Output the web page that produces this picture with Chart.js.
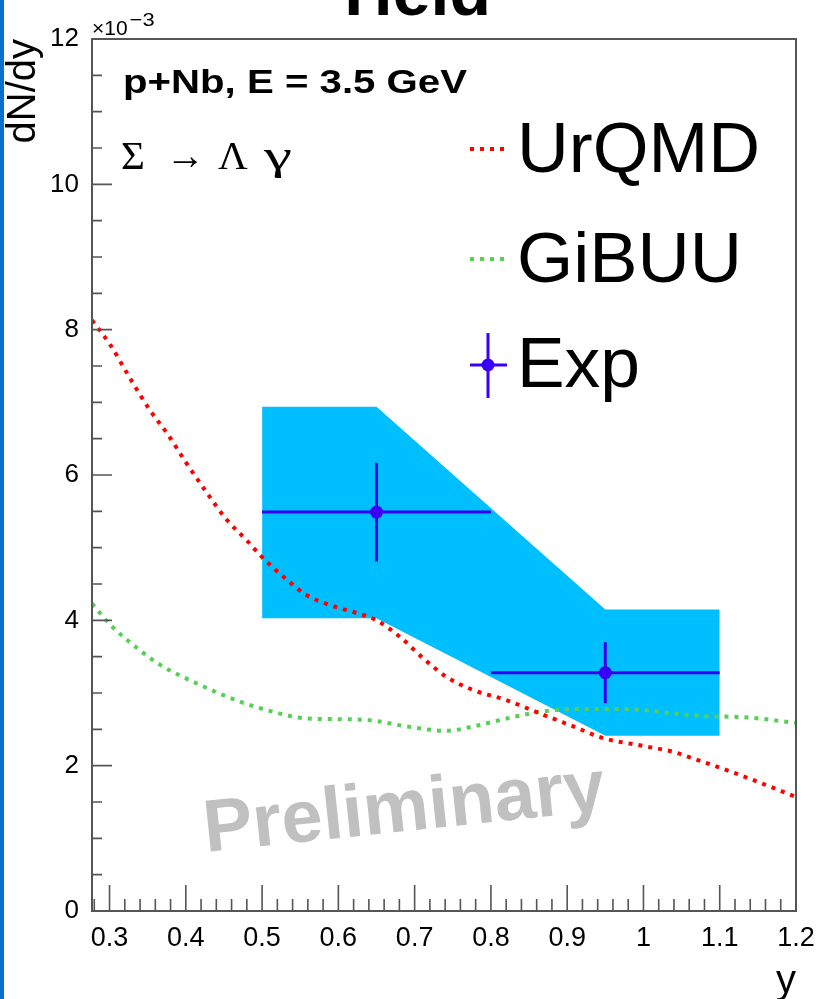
<!DOCTYPE html>
<html>
<head>
<meta charset="utf-8">
<script src="https://cdn.jsdelivr.net/npm/chart.js@4.4.1/dist/chart.umd.min.js"></script>
<style>
  html, body { margin: 0; padding: 0; background: #fff; }
  #wrap { position: relative; width: 819px; height: 999px; overflow: hidden; }
  #strip { position: absolute; left: 0; top: 0; width: 4px; height: 999px; background: #0b6fce; }
</style>
</head>
<body>
<div id="wrap">
  <canvas id="yieldChart" width="819" height="999"></canvas>
  <div id="strip"></div>
</div>
<script>
// rapidity y on x, dN/dy in units of 1e-3 on y
const urqmdRapidity = [0.277, 0.301, 0.327, 0.353, 0.375, 0.401, 0.428, 0.454, 0.48, 0.499, 0.528, 0.558, 0.589, 0.624, 0.65, 0.681, 0.711, 0.742, 0.777, 0.821, 0.864, 0.908, 0.947, 0.995, 1.039, 1.065, 1.127, 1.2]
const urqmdYield = [8.13, 7.79, 7.33, 6.89, 6.58, 6.16, 5.75, 5.38, 5.1, 4.88, 4.6, 4.35, 4.21, 4.1, 4.0, 3.77, 3.48, 3.22, 3.04, 2.9, 2.72, 2.54, 2.38, 2.28, 2.19, 2.1, 1.87, 1.57]

const gibuuRapidity = [0.277, 0.301, 0.336, 0.366, 0.419, 0.471, 0.515, 0.558, 0.602, 0.646, 0.689, 0.742, 0.777, 0.821, 0.864, 0.908, 0.952, 0.995, 1.039, 1.083, 1.127, 1.2]
const gibuuYield = [4.23, 3.94, 3.62, 3.39, 3.11, 2.88, 2.74, 2.65, 2.64, 2.62, 2.54, 2.48, 2.54, 2.65, 2.74, 2.78, 2.78, 2.77, 2.72, 2.68, 2.67, 2.59]

const expRapidity = [0.65, 0.95]
const expYield = [5.49, 3.28]
const expRapidityErr = [0.15, 0.15]
const expYieldErr = [0.68, 0.42]

// systematic band corners
const sysRapidity = [0.5, 0.65, 0.95, 1.1]
const sysHigh = [6.94, 6.94, 4.15, 4.15]
const sysLow = [4.03, 4.03, 2.41, 2.41]

const xTickValues = [0.3, 0.4, 0.5, 0.6, 0.7, 0.8, 0.9, 1.0, 1.1, 1.2]
const xTickLabels = ["0.3", "0.4", "0.5", "0.6", "0.7", "0.8", "0.9", "1", "1.1", "1.2"]
const yTickValues = [0, 2, 4, 6, 8, 10, 12]
const yTickLabels = ["0", "2", "4", "6", "8", "10", "12"]

const SANS = "'Liberation Sans', Arial, Helvetica, sans-serif"
const SERIF = "'Liberation Serif', 'Times New Roman', serif"
const EXP_COLOR = "#3a00f5"
const FRAME_COLOR = "#555555"
const X_MINOR = 0.02
const Y_MINOR = 0.5

function toPoints(xs, ys) {
  return xs.map((x, i) => ({ x: x, y: ys[i] }))
}

// draw text squeezed/stretched to a given width (ROOT fonts run wider)
function fillTextWidth(ctx, text, x, y, width) {
  const w = ctx.measureText(text).width
  ctx.save()
  ctx.translate(x, y)
  ctx.scale(width / w, 1)
  ctx.fillText(text, 0, 0)
  ctx.restore()
}

const rootStyle = {
  id: "rootStyle",
  beforeDraw(chart) {
    const ctx = chart.ctx
    ctx.save()
    ctx.fillStyle = "#ffffff"
    ctx.fillRect(0, 0, chart.width, chart.height)
    ctx.restore()
  },
  afterDatasetsDraw(chart) {
    const { ctx, chartArea: a, scales } = chart
    const x = scales.x
    const y = scales.y
    ctx.save()

    // error bars of the measurement
    ctx.strokeStyle = EXP_COLOR
    ctx.lineWidth = 3
    expRapidity.forEach((v, i) => {
      const px = x.getPixelForValue(v)
      const py = y.getPixelForValue(expYield[i])
      ctx.beginPath()
      ctx.moveTo(x.getPixelForValue(v - expRapidityErr[i]), py)
      ctx.lineTo(x.getPixelForValue(v + expRapidityErr[i]), py)
      ctx.moveTo(px, y.getPixelForValue(expYield[i] + expYieldErr[i]))
      ctx.lineTo(px, y.getPixelForValue(expYield[i] - expYieldErr[i]))
      ctx.stroke()
    })

    // frame
    ctx.strokeStyle = FRAME_COLOR
    ctx.lineWidth = 2
    ctx.strokeRect(a.left, a.top, a.right - a.left, a.bottom - a.top)

    // inward ticks, ROOT style
    ctx.lineWidth = 1.6
    ctx.beginPath()
    for (let k = Math.ceil(x.min / X_MINOR - 1e-6); k * X_MINOR <= x.max + 1e-6; k++) {
      const px = x.getPixelForValue(k * X_MINOR)
      const len = k % 5 === 0 ? 26 : 12
      ctx.moveTo(px, a.bottom)
      ctx.lineTo(px, a.bottom - len)
    }
    for (let k = 0; k * Y_MINOR <= y.max + 1e-6; k++) {
      const py = y.getPixelForValue(k * Y_MINOR)
      const len = k % 4 === 0 ? 20 : 10
      ctx.moveTo(a.left, py)
      ctx.lineTo(a.left + len, py)
    }
    ctx.stroke()
    ctx.restore()
  },
  afterDraw(chart) {
    const ctx = chart.ctx
    const a = chart.chartArea
    ctx.save()
    ctx.fillStyle = "#000000"
    ctx.textAlign = "left"
    ctx.textBaseline = "alphabetic"

    // cut off slide title
    ctx.font = "bold 68px " + SANS
    ctx.fillText("Yield", 331, 15)

    // axis exponent
    ctx.font = "21px " + SANS
    ctx.fillText("\u00d710", a.left, 35)
    const w = ctx.measureText("\u00d710").width
    ctx.font = "19px " + SANS
    fillTextWidth(ctx, "\u22123", a.left + w + 2, 26, 25)

    // labels
    ctx.font = "bold 34px " + SANS
    fillTextWidth(ctx, "p+Nb, E = 3.5 GeV", 123, 93, 344)
    ctx.font = "41px " + SERIF
    ctx.fillText("\u03a3", 121, 169)
    fillTextWidth(ctx, "\u2192", 166, 169, 39)
    ctx.fillText("\u039b", 218, 169)
    fillTextWidth(ctx, "\u03b3", 264, 169, 28)

    // legend
    const entries = chart.data.datasets.filter((d) => d.label)
    const baselines = [172, 282, 387]
    const widths = [243, 225, 123]
    ctx.font = "70px " + SANS
    entries.forEach((d, i) => {
      const b = baselines[i]
      ctx.fillStyle = "#000000"
      fillTextWidth(ctx, d.label, 517, b, widths[i])
      const cy = b - 22
      if (d.showLine === false) {
        ctx.strokeStyle = d.pointBackgroundColor
        ctx.lineWidth = 3
        ctx.beginPath()
        ctx.moveTo(470, cy)
        ctx.lineTo(507, cy)
        ctx.moveTo(488, cy - 32)
        ctx.lineTo(488, cy + 33)
        ctx.stroke()
        ctx.fillStyle = d.pointBackgroundColor
        ctx.beginPath()
        ctx.arc(488, cy, d.pointRadius, 0, Math.PI * 2)
        ctx.fill()
      } else {
        ctx.strokeStyle = d.borderColor
        ctx.lineWidth = d.borderWidth
        ctx.setLineDash(d.borderDash)
        ctx.beginPath()
        ctx.moveTo(470, cy - 1)
        ctx.lineTo(504, cy - 1)
        ctx.stroke()
        ctx.setLineDash([])
      }
    })

    // watermark
    ctx.translate(206, 852)
    ctx.rotate(-6 * Math.PI / 180)
    ctx.fillStyle = "#c0c0c0"
    ctx.font = "bold 74px " + SANS
    ctx.fillText("Preliminary", 0, 0)
    ctx.restore()
  },
}

new Chart(document.getElementById("yieldChart"), {
  type: "line",
  data: {
    datasets: [
      {
        data: toPoints(sysRapidity, sysHigh),
        borderColor: "rgba(0,0,0,0)",
        borderWidth: 0,
        pointRadius: 0,
        backgroundColor: "#00bfff",
        fill: "+1",
        order: 10,
      },
      {
        data: toPoints(sysRapidity, sysLow),
        borderColor: "rgba(0,0,0,0)",
        borderWidth: 0,
        pointRadius: 0,
        fill: false,
        order: 10,
      },
      {
        label: "UrQMD",
        data: toPoints(urqmdRapidity, urqmdYield),
        borderColor: "#ff0000",
        borderWidth: 4,
        borderDash: [4, 6],
        pointRadius: 0,
        cubicInterpolationMode: "monotone",
        fill: false,
        order: 2,
      },
      {
        label: "GiBUU",
        data: toPoints(gibuuRapidity, gibuuYield),
        borderColor: "#55d055",
        borderWidth: 4,
        borderDash: [4, 6],
        pointRadius: 0,
        cubicInterpolationMode: "monotone",
        fill: false,
        order: 3,
      },
      {
        label: "Exp",
        data: toPoints(expRapidity, expYield),
        showLine: false,
        pointRadius: 6.5,
        pointBorderWidth: 0,
        pointBackgroundColor: EXP_COLOR,
        pointBorderColor: EXP_COLOR,
        order: 1,
      },
    ],
  },
  options: {
    responsive: false,
    animation: false,
    events: [],
    layout: { padding: { top: 39, right: 23, left: 0, bottom: 0 } },
    plugins: {
      legend: { display: false },
      tooltip: { enabled: false },
    },
    scales: {
      x: {
        type: "linear",
        min: 0.277,
        max: 1.2,
        afterBuildTicks: (s) => {
          s.ticks = xTickValues.map((v) => ({ value: v }))
        },
        afterFit: (s) => {
          s.height = 88
          s.paddingLeft = 0
          s.paddingRight = 0
        },
        ticks: {
          autoSkip: false,
          maxRotation: 0,
          padding: 3,
          color: "#000000",
          font: { family: SANS, size: 27 },
          callback: (v, i) => xTickLabels[i],
        },
        grid: { display: false },
        border: { display: false },
        title: {
          display: true,
          text: "y",
          align: "end",
          color: "#000000",
          font: { family: SANS, size: 40 },
          padding: { top: 0, bottom: -7 },
        },
      },
      y: {
        type: "linear",
        min: 0,
        max: 12,
        afterBuildTicks: (s) => {
          s.ticks = yTickValues.map((v) => ({ value: v }))
        },
        afterFit: (s) => {
          s.width = 92
          s.paddingTop = 0
          s.paddingBottom = 0
        },
        ticks: {
          autoSkip: false,
          padding: 5,
          color: "#000000",
          font: { family: SANS, size: 26 },
          callback: (v, i) => yTickLabels[i],
        },
        grid: { display: false },
        border: { display: false },
        title: {
          display: true,
          text: "dN/dy",
          align: "end",
          color: "#000000",
          font: { family: SANS, size: 40 },
          padding: { top: 0, bottom: 0 },
        },
      },
    },
  },
  plugins: [rootStyle],
})
</script>
</body>
</html>
